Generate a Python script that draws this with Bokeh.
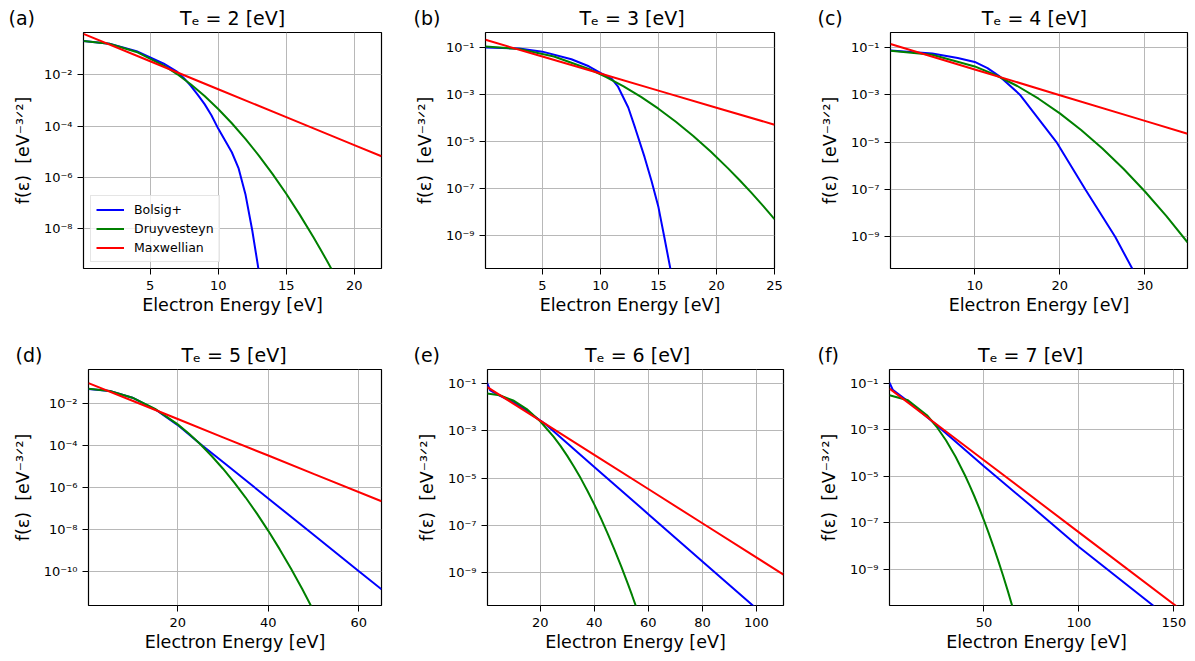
from bokeh.plotting import figure
from bokeh.layouts import row, column
from bokeh.models import (Range1d, FixedTicker, Legend, LegendItem, Title,
                          CustomJSTickFormatter)
from bokeh.embed import file_html
from bokeh.resources import INLINE

# ---------------- data ----------------
# Panel (a): Te = 2 eV
E_BOLSIG_A = [0.1, 2, 4, 6, 7, 7.5, 8, 8.5, 9, 9.5, 10, 11, 11.5, 12, 12.5, 13.0]
F_BOLSIG_A = [2.00e-1, 1.58e-1, 8.13e-2, 2.63e-2, 1.26e-2, 7.08e-3, 3.55e-3,
              1.62e-3, 7.08e-4, 2.63e-4, 7.94e-5, 9.55e-6, 2.24e-6, 2.24e-7,
              8.91e-9, 2.00e-10]
E_DRUY_A = [0.1, 2, 4, 6, 7, 8, 9, 10, 11, 12, 13, 14, 15, 16, 17, 17.5, 18, 18.5]
F_DRUY_A = [2.00e-1, 1.57e-1, 7.55e-2, 2.24e-2, 1.02e-2, 4.09e-3, 1.46e-3,
            4.60e-4, 1.28e-4, 3.18e-5, 6.95e-6, 1.35e-6, 2.32e-7, 3.52e-8,
            4.75e-9, 1.66e-9, 5.67e-10, 1.87e-10]
E_MAXW_A = [0.1, 5, 10, 15, 20, 22]
F_MAXW_A = [3.80e-1, 3.27e-2, 2.69e-3, 2.21e-4, 1.81e-5, 6.66e-6]

# Panel (b): Te = 3 eV
E_BOLSIG_B = [0.1, 3, 5, 7.5, 9, 10, 11, 11.5, 12.4, 13.0, 13.8, 14.4, 15.0,
              15.5, 16.05]
F_BOLSIG_B = [1.00e-1, 8.91e-2, 6.61e-2, 3.16e-2, 1.58e-2, 8.32e-3, 4.47e-3,
              2.24e-3, 2.82e-4, 3.72e-5, 2.24e-6, 2.19e-7, 1.66e-8, 9.12e-10,
              3.55e-11]
E_DRUY_B = [0.1, 3, 6, 9, 10.5, 12, 13.5, 15, 16.5, 18, 19.5, 21, 22, 23, 24, 25]
F_DRUY_B = [1.09e-1, 8.52e-2, 4.11e-2, 1.22e-2, 5.54e-3, 2.23e-3, 7.93e-4,
            2.50e-4, 6.98e-5, 1.73e-5, 3.78e-6, 7.33e-7, 2.30e-7, 6.81e-8,
            1.91e-8, 5.10e-9]
E_MAXW_B = [0.1, 5, 10, 15, 20, 25]
F_MAXW_B = [2.10e-1, 4.10e-2, 7.75e-3, 1.46e-3, 2.76e-4, 5.22e-5]

# Panel (c): Te = 4 eV
E_BOLSIG_C = [0.1, 5, 8, 10, 11.5, 13, 15.3, 17.45, 19.6, 23.0, 26.5, 28.7]
F_BOLSIG_C = [7.24e-2, 5.50e-2, 3.55e-2, 2.40e-2, 1.32e-2, 5.62e-3, 1.00e-3,
              1.00e-4, 1.00e-5, 1.00e-7, 1.00e-9, 3.39e-11]
E_DRUY_C = [0.1, 5, 10, 12.5, 15, 17.5, 20, 22.5, 25, 27.5, 30, 32.5, 35]
F_DRUY_C = [7.06e-2, 4.83e-2, 1.55e-2, 6.58e-3, 2.32e-3, 6.74e-4, 1.62e-4,
            3.23e-5, 5.33e-6, 7.26e-7, 8.18e-8, 7.62e-9, 5.88e-10]
E_MAXW_C = [0.1, 10, 20, 30, 35]
F_MAXW_C = [1.38e-1, 1.16e-2, 9.50e-4, 7.80e-5, 2.23e-5]

# Panel (d): Te = 5 eV
E_BOLSIG_D = [0.3, 5, 10, 15, 20, 25, 30, 40, 50, 60, 65]
F_BOLSIG_D = [5.01e-2, 3.98e-2, 1.91e-2, 5.37e-3, 9.55e-4, 1.20e-4, 1.66e-5,
              3.09e-7, 5.75e-9, 1.07e-10, 1.48e-11]
E_DRUY_D = [0.3, 5, 10, 15, 20, 22.5, 25, 27.5, 30, 32.5, 35, 37.5, 40, 42.5,
            45, 47.5, 50]
F_DRUY_D = [5.05e-2, 3.96e-2, 1.91e-2, 5.67e-3, 1.03e-3, 3.68e-4, 1.16e-4,
            3.24e-5, 8.02e-6, 1.76e-6, 3.41e-7, 5.85e-8, 8.90e-9, 1.20e-9,
            1.43e-10, 1.51e-11, 1.41e-12]
E_MAXW_D = [0.3, 10, 20, 30, 40, 50, 65]
F_MAXW_D = [9.51e-2, 1.37e-2, 1.85e-3, 2.50e-4, 3.39e-5, 4.58e-6, 2.28e-7]

# Panel (e): Te = 6 eV
E_BOLSIG_E = [0.3, 1.5, 5, 10, 15, 22, 30, 40, 60, 80, 100.5]
F_BOLSIG_E = [1.12e-1, 5.25e-2, 3.16e-2, 1.66e-2, 7.08e-3, 1.91e-3, 3.02e-4,
              3.02e-5, 3.02e-7, 3.02e-9, 2.69e-11]
E_DRUY_E = [0.3, 5, 10, 15, 20, 25, 27.5, 30, 32.5, 35, 37.5, 40, 42.5, 45,
            47.5, 50, 52.5, 54, 56]
F_DRUY_E = [3.84e-2, 3.25e-2, 1.96e-2, 8.42e-3, 2.58e-3, 5.66e-4, 2.33e-4,
            8.84e-5, 3.08e-5, 9.86e-6, 2.90e-6, 7.84e-7, 1.95e-7, 4.45e-8,
            9.35e-9, 1.80e-9, 3.20e-10, 1.09e-10, 2.47e-11]
E_MAXW_E = [0.3, 20, 40, 60, 80, 110]
F_MAXW_E = [7.31e-2, 2.74e-3, 9.77e-5, 3.49e-6, 1.24e-7, 8.38e-10]

# Panel (f): Te = 7 eV
E_BOLSIG_F = [0.3, 2, 10, 20, 25, 50, 75, 100, 139.5]
F_BOLSIG_F = [1.05e-1, 5.25e-2, 1.66e-2, 3.55e-3, 1.58e-3, 2.69e-5, 5.01e-7,
              8.91e-9, 2.51e-11]
E_DRUY_F = [0.3, 10, 20, 25, 30, 35, 40, 42.5, 45, 47.5, 50, 52.5, 55, 57.5,
            60, 62.5, 66]
F_DRUY_F = [3.05e-2, 1.86e-2, 4.20e-3, 1.37e-3, 3.52e-4, 7.01e-5, 1.09e-5,
            3.93e-6, 1.33e-6, 4.22e-7, 1.26e-7, 3.53e-8, 9.32e-9, 2.31e-9,
            5.38e-10, 1.18e-10, 1.27e-11]
E_MAXW_F = [0.3, 25, 50, 100, 152]
F_MAXW_F = [5.84e-2, 1.71e-3, 4.82e-5, 3.81e-8, 2.26e-11]

TE_VALUES = [2, 3, 4, 5, 6, 7]
PANEL_TAGS = ["(a)", "(b)", "(c)", "(d)", "(e)", "(f)"]
SERIES_NAMES = ["Bolsig+", "Druyvesteyn", "Maxwellian"]
X_LABEL = "Electron Energy [eV]"
Y_LABEL = "f(\u03b5)\u00a0\u00a0[eV\u207b\u00b3\u141f\u00b2]"
X_TICKS = [[5, 10, 15, 20], [5, 10, 15, 20, 25], [10, 20, 30],
           [20, 40, 60], [20, 40, 60, 80, 100], [50, 100, 150]]
Y_TICKS = [[1e-2, 1e-4, 1e-6, 1e-8],
           [1e-1, 1e-3, 1e-5, 1e-7, 1e-9],
           [1e-1, 1e-3, 1e-5, 1e-7, 1e-9],
           [1e-2, 1e-4, 1e-6, 1e-8, 1e-10],
           [1e-1, 1e-3, 1e-5, 1e-7, 1e-9],
           [1e-1, 1e-3, 1e-5, 1e-7, 1e-9]]
X_LIMITS = [(0.1, 22), (0.1, 25), (0.1, 35), (0.3, 65), (0.5, 110), (0.3, 155)]
Y_LIMITS = [(2.9e-10, 0.43), (4.1e-11, 0.43), (4.6e-11, 0.42),
            (2.5e-12, 0.42), (4.1e-11, 0.40), (2.7e-11, 0.39)]

SERIES = [
    [(E_BOLSIG_A, F_BOLSIG_A), (E_DRUY_A, F_DRUY_A), (E_MAXW_A, F_MAXW_A)],
    [(E_BOLSIG_B, F_BOLSIG_B), (E_DRUY_B, F_DRUY_B), (E_MAXW_B, F_MAXW_B)],
    [(E_BOLSIG_C, F_BOLSIG_C), (E_DRUY_C, F_DRUY_C), (E_MAXW_C, F_MAXW_C)],
    [(E_BOLSIG_D, F_BOLSIG_D), (E_DRUY_D, F_DRUY_D), (E_MAXW_D, F_MAXW_D)],
    [(E_BOLSIG_E, F_BOLSIG_E), (E_DRUY_E, F_DRUY_E), (E_MAXW_E, F_MAXW_E)],
    [(E_BOLSIG_F, F_BOLSIG_F), (E_DRUY_F, F_DRUY_F), (E_MAXW_F, F_MAXW_F)],
]

# ---------------- styling / layout ----------------
COLORS = ["#0000ff", "#008000", "#ff0000"]
FONT = "DejaVu Sans"
# (width, height, border_left, border_right, border_top, border_bottom)
GEOM = [(405, 330, 83, 24, 32, 62), (405, 330, 80, 36, 32, 62),
        (385, 330, 80, 8, 32, 62), (405, 330, 88, 24, 39, 55),
        (405, 330, 82, 27, 39, 55), (385, 330, 79, 12, 39, 55)]
TAG_DX = [-75, -72, -73, -73, -74, -72]
TITLE_PX = 19

SUP_JS = """
const sup = {"-": "\\u207b", "0": "\\u2070", "1": "\\u00b9", "2": "\\u00b2",
             "3": "\\u00b3", "4": "\\u2074", "5": "\\u2075", "6": "\\u2076",
             "7": "\\u2077", "8": "\\u2078", "9": "\\u2079"};
const e = Math.round(Math.log10(tick));
let s = "";
for (const c of String(e)) { s += sup[c]; }
return "10" + s;
"""


def title_text(i, fw):
    main = "T\u2091 = %d [eV]" % TE_VALUES[i]
    tag_w = 1.393 * TITLE_PX
    start = fw / 2 - 2.8 * TITLE_PX
    gap = start - (TAG_DX[i] + tag_w)
    n_em = int(gap // TITLE_PX)
    n_nb = int(round((gap - n_em * TITLE_PX) / (0.318 * TITLE_PX)))
    return PANEL_TAGS[i] + "\u2003" * n_em + "\u00a0" * n_nb + main


def make_panel(i):
    w, h, bl, br, bt, bb = GEOM[i]
    fw = w - bl - br
    p = figure(width=w, height=h, y_axis_type="log",
               x_range=Range1d(*X_LIMITS[i]), y_range=Range1d(*Y_LIMITS[i]),
               output_backend="svg", toolbar_location=None, title=None,
               min_border_left=bl, min_border_right=br,
               min_border_top=bt, min_border_bottom=bb)
    p.background_fill_color = "white"
    p.border_fill_color = "white"
    p.outline_line_color = "black"
    p.outline_line_width = 1.2
    p.outline_line_alpha = 1.0

    xt = FixedTicker(ticks=X_TICKS[i], minor_ticks=[])
    yt = FixedTicker(ticks=Y_TICKS[i], minor_ticks=[])
    p.xaxis.ticker = xt
    p.yaxis.ticker = yt
    p.xgrid.ticker = xt
    p.ygrid.ticker = yt
    p.yaxis.formatter = CustomJSTickFormatter(code=SUP_JS)
    for ax in (p.xaxis, p.yaxis):
        ax.axis_line_color = None
        ax.major_tick_in = 0
        ax.major_tick_out = 6
        ax.major_tick_line_color = "black"
        ax.major_tick_line_width = 1
        ax.minor_tick_line_color = None
        ax.major_label_text_font = FONT
        ax.major_label_text_font_size = "13px"
        ax.major_label_text_color = "black"
        ax.axis_label_text_font = FONT
        ax.axis_label_text_font_size = "17.5px"
        ax.axis_label_text_font_style = "normal"
        ax.axis_label_text_color = "black"
    p.xaxis.major_label_standoff = 6
    p.yaxis.major_label_standoff = 5
    p.xaxis.axis_label = X_LABEL
    p.yaxis.axis_label = Y_LABEL
    p.xaxis.axis_label_standoff = 2
    p.yaxis.axis_label_standoff = 8
    for g in (p.xgrid, p.ygrid):
        g.grid_line_color = "#b8b8b8"
        g.grid_line_width = 1

    renderers = []
    for (e, f), c in zip(SERIES[i], COLORS):
        renderers.append(p.line(e, f, line_color=c, line_width=2))

    if i == 0:
        legend = Legend(items=[LegendItem(label=n, renderers=[r])
                               for n, r in zip(SERIES_NAMES, renderers)],
                        location=(7, 6), margin=0, padding=5, spacing=2,
                        glyph_width=28, glyph_height=17, label_height=17,
                        label_standoff=10, label_text_font=FONT,
                        label_text_font_size="12.5px",
                        label_text_color="black",
                        border_line_color="#cccccc", border_line_width=1,
                        background_fill_alpha=0.8)
        p.add_layout(legend)

    p.add_layout(Title(text=title_text(i, fw), align="left",
                       offset=TAG_DX[i], standoff=8, vertical_align="bottom",
                       text_font=FONT, text_font_size="%dpx" % TITLE_PX,
                       text_font_style="normal", text_color="black"),
                 "above")
    return p


panels = [make_panel(i) for i in range(6)]
layout = column(row(*panels[:3]), row(*panels[3:]))

with open("out.html", "w", encoding="utf-8") as fh_out:
    fh_out.write(file_html(layout, INLINE, "EEDF comparison"))
